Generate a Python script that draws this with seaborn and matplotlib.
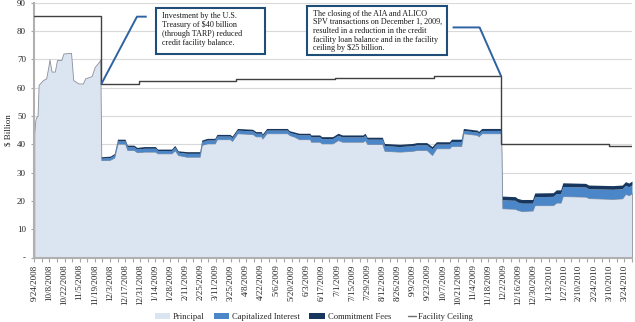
import matplotlib
matplotlib.use("Agg")
import matplotlib.pyplot as plt
from matplotlib.patches import Patch, Rectangle
from matplotlib.lines import Line2D
from matplotlib.legend_handler import HandlerLine2D
import seaborn as sns
import pandas as pd

# ---------------- data ----------------
dates = [
    "2008-09-24", "2008-09-25", "2008-09-26", "2008-09-27", "2008-09-28", "2008-10-02",
    "2008-10-05", "2008-10-07", "2008-10-08", "2008-10-10", "2008-10-13", "2008-10-15",
    "2008-10-19", "2008-10-21", "2008-10-28", "2008-10-30", "2008-11-04", "2008-11-08",
    "2008-11-10", "2008-11-16", "2008-11-19", "2008-11-23", "2008-11-24",
    "2008-11-25", "2008-12-03", "2008-12-07", "2008-12-10", "2008-12-17", "2008-12-19",
    "2008-12-25", "2008-12-28", "2009-01-04", "2009-01-14", "2009-01-16", "2009-01-29",
    "2009-02-01", "2009-02-04", "2009-02-12", "2009-02-24", "2009-02-26", "2009-03-03",
    "2009-03-10", "2009-03-12", "2009-03-24", "2009-03-26", "2009-03-31", "2009-04-14",
    "2009-04-17", "2009-04-22", "2009-04-23", "2009-04-27", "2009-05-16", "2009-05-18",
    "2009-05-23", "2009-05-27", "2009-06-06", "2009-06-07", "2009-06-15", "2009-06-17",
    "2009-06-27", "2009-07-02", "2009-07-06", "2009-07-25", "2009-07-27", "2009-07-29",
    "2009-08-12", "2009-08-14", "2009-08-28", "2009-09-09", "2009-09-13", "2009-09-22",
    "2009-09-27", "2009-10-01", "2009-10-13", "2009-10-15", "2009-10-24", "2009-10-26",
    "2009-11-08", "2009-11-09", "2009-11-12", "2009-11-30",
    "2009-12-01", "2009-12-13", "2009-12-15", "2009-12-19", "2009-12-29", "2009-12-31",
    "2010-01-17", "2010-01-20", "2010-01-24", "2010-01-26", "2010-02-16", "2010-02-19",
    "2010-03-13", "2010-03-22", "2010-03-25", "2010-03-28", "2010-03-31",
]
principal = [
    44.0, 48.6, 49.7, 50.0, 61.0, 62.7,
    63.3, 67.4, 70.0, 65.7, 65.7, 69.8,
    69.8, 72.1, 72.3, 62.7, 61.5, 61.5,
    63.3, 64.1, 67.4, 69.2, 70.0,
    34.4, 34.5, 35.3, 40.2, 40.2, 38.0,
    38.0, 37.2, 37.4, 37.4, 36.8, 36.8,
    37.9, 36.2, 35.6, 35.6, 39.8, 40.3,
    40.3, 41.8, 41.8, 41.2, 43.9, 43.6,
    42.8, 42.8, 42.0, 43.9, 43.9, 43.3,
    42.6, 41.8, 41.8, 40.9, 40.9, 40.3,
    40.3, 41.5, 40.9, 40.9, 41.5, 40.1,
    40.1, 37.7, 37.4, 37.7, 38.0, 38.0,
    36.2, 38.6, 38.6, 39.4, 39.4, 43.9,
    43.3, 42.8, 43.9, 43.9,
    17.4, 17.2, 16.8, 16.4, 16.6, 18.5,
    18.5, 19.4, 19.4, 21.7, 21.5, 21.0,
    20.7, 20.9, 22.5, 22.0, 22.7,
]
cap_interest = [
    0.0, 0.0, 0.0, 0.0, 0.0, 0.0,
    0.0, 0.0, 0.0, 0.0, 0.0, 0.0,
    0.0, 0.0, 0.0, 0.0, 0.0, 0.0,
    0.0, 0.0, 0.0, 0.0, 0.0,
    0.7, 0.8, 0.9, 1.0, 1.0, 1.1,
    1.1, 1.1, 1.2, 1.2, 1.0, 1.0,
    1.1, 1.0, 1.2, 1.2, 1.1, 1.2,
    1.2, 1.1, 1.1, 1.1, 1.1, 1.1,
    1.1, 1.1, 1.0, 1.1, 1.1, 0.9,
    1.1, 1.5, 1.5, 1.7, 1.7, 1.7,
    1.7, 1.7, 1.7, 1.7, 1.7, 1.7,
    1.7, 1.8, 1.8, 1.8, 1.8, 1.8,
    2.2, 1.5, 1.5, 1.6, 1.6, 1.0,
    1.0, 1.0, 1.0, 1.0,
    3.0, 3.0, 2.8, 2.8, 2.6, 3.0,
    3.1, 3.2, 3.2, 3.4, 3.4, 3.3,
    3.4, 3.4, 3.0, 3.0, 3.0,
]
commitment_fees = [
    0.0, 0.0, 0.0, 0.0, 0.0, 0.0,
    0.0, 0.0, 0.0, 0.0, 0.0, 0.0,
    0.0, 0.0, 0.0, 0.0, 0.0, 0.0,
    0.0, 0.0, 0.0, 0.0, 0.0,
    0.5, 0.5, 0.5, 0.6, 0.6, 0.6,
    0.6, 0.6, 0.6, 0.6, 0.5, 0.5,
    0.6, 0.5, 0.6, 0.6, 0.6, 0.6,
    0.6, 0.6, 0.6, 0.6, 0.6, 0.6,
    0.6, 0.6, 0.6, 0.6, 0.6, 0.6,
    0.6, 0.6, 0.6, 0.7, 0.7, 0.7,
    0.7, 0.7, 0.7, 0.7, 0.7, 0.7,
    0.7, 0.8, 0.8, 0.8, 0.8, 0.8,
    0.8, 0.8, 0.8, 0.8, 0.8, 0.7,
    0.7, 0.7, 0.7, 0.7,
    1.3, 1.3, 1.3, 1.3, 1.3, 1.3,
    1.3, 1.3, 1.3, 1.3, 1.3, 1.3,
    1.3, 1.3, 1.3, 1.3, 1.3,
]

ceiling_dates = ["2008-09-24", "2008-11-25", "2008-12-30", "2009-03-30", "2009-06-29",
                 "2009-09-29", "2009-11-30", "2010-03-10", "2010-03-31"]
ceiling_values = [85.3, 61.2, 62.2, 63.0, 63.6, 64.1, 40.0, 39.4, 39.4]

tick_labels = [
    "9/24/2008", "10/8/2008", "10/22/2008", "11/5/2008", "11/19/2008", "12/3/2008",
    "12/17/2008", "12/31/2008", "1/14/2009", "1/28/2009", "2/11/2009", "2/25/2009",
    "3/11/2009", "3/25/2009", "4/8/2009", "4/22/2009", "5/6/2009", "5/20/2009",
    "6/3/2009", "6/17/2009", "7/1/2009", "7/15/2009", "7/29/2009", "8/12/2009",
    "8/26/2009", "9/9/2009", "9/23/2009", "10/7/2009", "10/21/2009", "11/4/2009",
    "11/18/2009", "12/2/2009", "12/16/2009", "12/30/2009", "1/13/2010", "1/27/2010",
    "2/10/2010", "2/24/2010", "3/10/2010", "3/24/2010",
]
y_ticks = [0, 10, 20, 30, 40, 50, 60, 70, 80, 90]
y_tick_labels = ["-", "10", "20", "30", "40", "50", "60", "70", "80", "90"]

series_names = ["Principal", "Capitalized Interest", "Commitment Fees", "Facility Ceiling"]

note1 = "Investment by the U.S.\nTreasury of $40 billion\n(through TARP) reduced\ncredit facility balance."
note2 = ("The closing of the AIA and ALICO\nSPV transactions on December 1, 2009,\n"
         "resulted in a reduction in the credit\nfacility loan balance and in the facility\n"
         "ceiling by $25 billion.")
# callout leader lines (date, value)
leader1 = [("2008-11-25", 61.3), ("2008-12-28", 85.1), ("2009-01-06", 85.1)]
leader2 = [("2009-10-16", 81.3), ("2009-11-10", 81.3), ("2009-11-30", 64.0)]

# ---------------- styling ----------------
C_PRIN = "#dbe5f1"
C_INT = "#4a86c8"
C_FEE = "#17375e"
C_CEIL = "#404040"
C_BOX = "#1f4e79"
C_LEAD = "#2f62a0"

sns.set_theme(style="white")
plt.rcParams["font.family"] = ["Liberation Serif", "DejaVu Serif"]

df = pd.DataFrame({"date": pd.to_datetime(dates), "principal": principal,
                   "interest": cap_interest, "fees": commitment_fees})
df["lvl1"] = df["principal"]
df["lvl2"] = df["lvl1"] + df["interest"]
df["lvl3"] = df["lvl2"] + df["fees"]

ceil_df = pd.DataFrame({"date": pd.to_datetime(ceiling_dates), "ceiling": ceiling_values})

W, H = 635, 322
fig = plt.figure(figsize=(W / 100, H / 100), dpi=100)
ax_l, ax_r, ax_t, ax_b = 34.3, 632.0, 2.8, 257.5
ax = fig.add_axes([ax_l / W, 1 - ax_b / H, (ax_r - ax_l) / W, (ax_b - ax_t) / H])

ax.set_ylim(0, 90)
ax.set_yticks(y_ticks)
ax.yaxis.grid(True, color="#d9d9d9", lw=0.8)
ax.set_axisbelow(True)

ax.fill_between(df["date"], 0, df["lvl1"], color=C_PRIN, edgecolor="#8a8f99", lw=0.6, zorder=2)
ax.fill_between(df["date"], df["lvl1"], df["lvl2"], color=C_INT, lw=0, zorder=3)
ax.fill_between(df["date"], df["lvl2"], df["lvl3"], color=C_FEE, lw=0, zorder=4)

sns.lineplot(data=ceil_df, x="date", y="ceiling", ax=ax, drawstyle="steps-post",
             color=C_CEIL, lw=1.0, zorder=5, legend=False)

# leader lines
for pts in (leader1, leader2):
    xs = pd.to_datetime([p[0] for p in pts])
    ys = [p[1] for p in pts]
    ax.plot(xs, ys, color=C_LEAD, lw=1.4, zorder=6, solid_capstyle="butt")

ax.set_xlim(pd.Timestamp("2008-09-24"), pd.Timestamp("2010-03-31"))
major = pd.date_range("2008-09-24", "2010-03-24", freq="14D")
minor = pd.date_range("2008-09-24", "2010-03-31", freq="7D")
ax.set_xticks(major)
ax.set_xticklabels(tick_labels, rotation=90, fontsize=6.5)
ax.set_xticks(minor, minor=True)
ax.set_yticklabels(y_tick_labels, fontsize=6.5)
ax.tick_params(axis="x", which="both", direction="out", length=3, width=0.8,
               color="#a6a6a6", pad=2, bottom=True)
ax.tick_params(axis="y", which="major", direction="out", length=2, width=0.8,
               color="#a6a6a6", pad=4, left=True)
ax.set_xlabel("")
ax.set_ylabel("$ Billion", fontsize=6.5)
ax.yaxis.set_label_coords(-0.036, 0.5)
for s in ("top", "right"):
    ax.spines[s].set_visible(False)
for s in ("left", "bottom"):
    ax.spines[s].set_color("#b0b0b0")
    ax.spines[s].set_linewidth(1.5)

# callout boxes (figure pixel coords)
def px(x, y):
    return x / W, 1 - y / H

for (x0, y0, x1, y1, tx, ty, txt) in [
    (156, 8, 265, 54, 162.3, 12.5, note1),
    (307, 6, 447, 55, 313.3, 9.5, note2),
]:
    fx, fy = px(x0, y1)
    rect = Rectangle((fx, fy), (x1 - x0) / W, (y1 - y0) / H, transform=fig.transFigure,
                     facecolor="white", edgecolor=C_BOX, lw=1.5, zorder=10)
    fig.patches.append(rect)
    fig.text(*px(tx, ty), txt, fontsize=5.9, va="top", ha="left", linespacing=1.12,
             color="#1a1a1a", zorder=11)

class ShortLine(HandlerLine2D):
    def create_artists(self, legend, orig_handle, xdescent, ydescent, width, height, fontsize, trans):
        ln = Line2D([width * 0.5 - xdescent, width - xdescent], [height / 2 - ydescent] * 2,
                    color=orig_handle.get_color(), lw=orig_handle.get_linewidth())
        ln.set_transform(trans)
        return [ln]

handles = [Patch(facecolor=C_PRIN, edgecolor="none"),
           Patch(facecolor=C_INT, edgecolor="none"),
           Patch(facecolor=C_FEE, edgecolor="none"),
           Line2D([0], [0], color="#707070", lw=1.0)]
fig.legend(handles, series_names, loc="center", bbox_to_anchor=(314 / W, 1 - 317 / H),
           ncol=4, frameon=False, fontsize=6.2, handlelength=1.8, handleheight=0.55,
           columnspacing=1.1, handletextpad=0.3, borderpad=0,
           handler_map={handles[3]: ShortLine()})

fig.savefig("out.png", dpi=100)
